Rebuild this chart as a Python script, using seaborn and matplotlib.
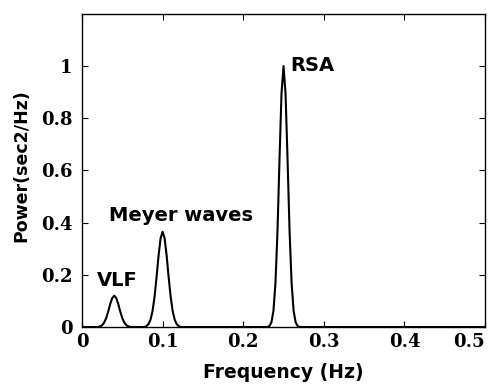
import matplotlib
matplotlib.use("Agg")
import matplotlib.pyplot as plt
import pandas as pd
import seaborn as sns

# Spectral peaks (frequency in Hz, power in sec2/Hz)
vlf_freq = [0.02, 0.0225, 0.025, 0.0275, 0.03, 0.0325, 0.035, 0.0375, 0.04,
            0.0425, 0.045, 0.0475, 0.05, 0.0525, 0.055, 0.0575, 0.06]
vlf_power = [0.0, 0.0025, 0.007, 0.017, 0.034, 0.059, 0.088, 0.111, 0.120,
             0.111, 0.088, 0.059, 0.034, 0.017, 0.007, 0.0025, 0.0]

meyer_freq = [0.0775, 0.08, 0.0825, 0.085, 0.0875, 0.09, 0.0925, 0.095, 0.0975,
              0.1, 0.1025, 0.105, 0.1075, 0.11, 0.1125, 0.115, 0.1175, 0.12,
              0.1225]
meyer_power = [0.0, 0.004, 0.011, 0.028, 0.061, 0.116, 0.191, 0.274, 0.340,
               0.365, 0.340, 0.274, 0.191, 0.116, 0.061, 0.028, 0.011, 0.004,
               0.0]

rsa_freq = [0.23, 0.2325, 0.235, 0.2375, 0.24, 0.2425, 0.245, 0.2475, 0.25,
            0.2525, 0.255, 0.2575, 0.26, 0.2625, 0.265, 0.2675, 0.27]
rsa_power = [0.0, 0.004, 0.018, 0.062, 0.169, 0.367, 0.641, 0.895, 1.0,
             0.895, 0.641, 0.367, 0.169, 0.062, 0.018, 0.004, 0.0]

baseline_freq = [0.0, 0.015, 0.065, 0.075, 0.125, 0.2, 0.225, 0.275, 0.5]
baseline_power = [0.0, 0.0, 0.0, 0.0, 0.0, 0.0, 0.0, 0.0, 0.0]

peak_labels = ["VLF", "Meyer waves", "RSA"]
label_pos = [(0.019, 0.158), (0.033, 0.408), (0.2587, 0.98)]

x_ticks = [0, 0.1, 0.2, 0.3, 0.4, 0.5]
x_ticklabels = ["0", "0.1", "0.2", "0.3", "0.4", "0.5"]
y_ticks = [0, 0.2, 0.4, 0.6, 0.8, 1.0]
y_ticklabels = ["0", "0.2", "0.4", "0.6", "0.8", "1"]

df = pd.DataFrame({
    "freq": vlf_freq + meyer_freq + rsa_freq + baseline_freq,
    "power": vlf_power + meyer_power + rsa_power + baseline_power,
}).sort_values("freq").reset_index(drop=True)

sns.set_style("ticks")
plt.rcParams["font.family"] = ["DejaVu Sans"]
plt.rcParams["text.color"] = "black"
plt.rcParams["axes.labelcolor"] = "black"
plt.rcParams["xtick.color"] = "black"
plt.rcParams["ytick.color"] = "black"

fig = plt.figure(figsize=(4.88, 3.87), dpi=100)
ax = fig.add_axes([0.168, 0.155, 0.826, 0.809])

sns.lineplot(data=df, x="freq", y="power", ax=ax, color="black",
             linewidth=1.5, estimator=None, sort=True)

ax.set_xlim(0, 0.5)
ax.set_ylim(0, 1.2)
ax.set_xticks(x_ticks)
ax.set_xticklabels(x_ticklabels)
ax.set_yticks(y_ticks)
ax.set_yticklabels(y_ticklabels)
for lab in ax.get_xticklabels() + ax.get_yticklabels():
    lab.set_fontfamily(["DejaVu Serif"])
    lab.set_fontweight("bold")
    lab.set_fontsize(13)
    lab.set_color("black")
# last x label sits inside the figure, right-aligned to the axes edge
ax.get_xticklabels()[-1].set_horizontalalignment("right")

ax.tick_params(direction="in", top=True, right=True, length=4, width=0.8,
               color="black")
ax.tick_params(axis="x", pad=4)
ax.tick_params(axis="y", pad=7)
for side in ["left", "right", "top", "bottom"]:
    ax.spines[side].set_visible(True)
    ax.spines[side].set_linewidth(1.0)
    ax.spines[side].set_color("black")

ax.set_xlabel("Frequency (Hz)", fontsize=13.5, fontweight="bold")
ax.set_ylabel("Power(sec2/Hz)", fontsize=12.5, fontweight="bold")
ax.xaxis.set_label_coords(0.5, -0.115)
ax.yaxis.set_label_coords(-0.127, 0.514)

for text, (tx, ty) in zip(peak_labels, label_pos):
    ax.text(tx, ty, text, fontsize=14, fontweight="bold", ha="left",
            va="baseline", color="black")

fig.savefig("out.png", dpi=100)
